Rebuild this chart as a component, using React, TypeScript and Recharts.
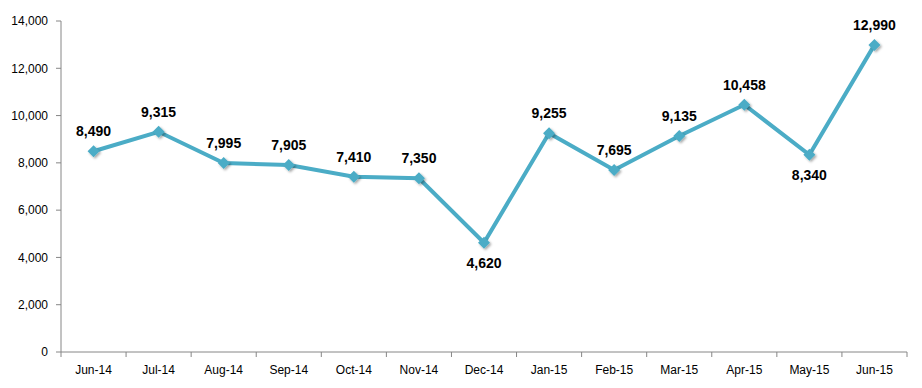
import React from 'react';
import { LineChart, Line, XAxis, YAxis, LabelList } from 'recharts';

const months = ['Jun-14', 'Jul-14', 'Aug-14', 'Sep-14', 'Oct-14', 'Nov-14', 'Dec-14', 'Jan-15', 'Feb-15', 'Mar-15', 'Apr-15', 'May-15', 'Jun-15'];
const values = [8490, 9315, 7995, 7905, 7410, 7350, 4620, 9255, 7695, 9135, 10458, 8340, 12990];
const labelBelow = [false, false, false, false, false, false, true, false, false, false, false, true, false];
const yTicks = [0, 2000, 4000, 6000, 8000, 10000, 12000, 14000];

const data = months.map((m, i) => ({ month: m, value: values[i] }));

const LINE_COLOR = '#4BACC6';
const AXIS_COLOR = '#868686';
const FONT = 'Arial, "Liberation Sans", sans-serif';

const fmt = (v: number) => v.toLocaleString('en-US');

const XTick = (props: any) => {
  const { x, y, payload, index } = props;
  const bw = 846 / months.length;
  return (
    <g>
      <line x1={x - bw / 2} y1={y} x2={x - bw / 2} y2={y + 5} stroke={AXIS_COLOR} strokeWidth={1} />
      {index === months.length - 1 && (
        <line x1={x + bw / 2} y1={y} x2={x + bw / 2} y2={y + 5} stroke={AXIS_COLOR} strokeWidth={1} />
      )}
      <text x={x} y={y + 22} textAnchor="middle" fontSize={12} fontFamily={FONT} fill="#000">
        {payload.value}
      </text>
    </g>
  );
};

const Diamond = (props: any) => {
  const { cx, cy } = props;
  if (cx == null || cy == null) return null;
  const r = 6;
  return (
    <path
      d={`M${cx},${cy - r} L${cx + r},${cy} L${cx},${cy + r} L${cx - r},${cy} Z`}
      fill={LINE_COLOR}
      stroke="none"
      filter="url(#shadow)"
    />
  );
};

const ValueLabel = (props: any) => {
  const { x, y, value, index } = props;
  const below = labelBelow[index];
  return (
    <text
      x={x}
      y={below ? y + 25 : y - 15}
      textAnchor="middle"
      fontSize={14}
      fontWeight="bold"
      fontFamily={FONT}
      fill="#000"
    >
      {fmt(value)}
    </text>
  );
};

export default function App() {
  return (
    <div style={{ position: 'absolute', left: 0, top: 0, background: '#fff' }}>
      <LineChart width={922} height={388} data={data} margin={{ top: 21, right: 15, bottom: 0, left: 0 }}>
        <defs>
          <filter id="shadow" x="-50%" y="-50%" width="200%" height="200%">
            <feDropShadow dx="1.5" dy="1.5" stdDeviation="1" floodColor="#000" floodOpacity="0.35" />
          </filter>
        </defs>
        <XAxis
          dataKey="month"
          scale="band"
          height={36}
          axisLine={{ stroke: AXIS_COLOR }}
          tickLine={false}
          tickSize={0}
          tickMargin={0}
          tick={<XTick />}
          interval={0}
        />
        <YAxis
          width={61}
          domain={[0, 14000]}
          ticks={yTicks}
          tickFormatter={fmt}
          axisLine={{ stroke: AXIS_COLOR }}
          tickLine={{ stroke: AXIS_COLOR }}
          tickSize={5}
          tickMargin={8}
          tick={{ fontSize: 12, fontFamily: FONT, fill: '#000' }}
          interval={0}
        />
        <Line
          type="linear"
          dataKey="value"
          stroke={LINE_COLOR}
          strokeWidth={4}
          dot={<Diamond />}
          activeDot={false}
          isAnimationActive={false}
        >
          <LabelList dataKey="value" content={<ValueLabel />} />
        </Line>
      </LineChart>
    </div>
  );
}
